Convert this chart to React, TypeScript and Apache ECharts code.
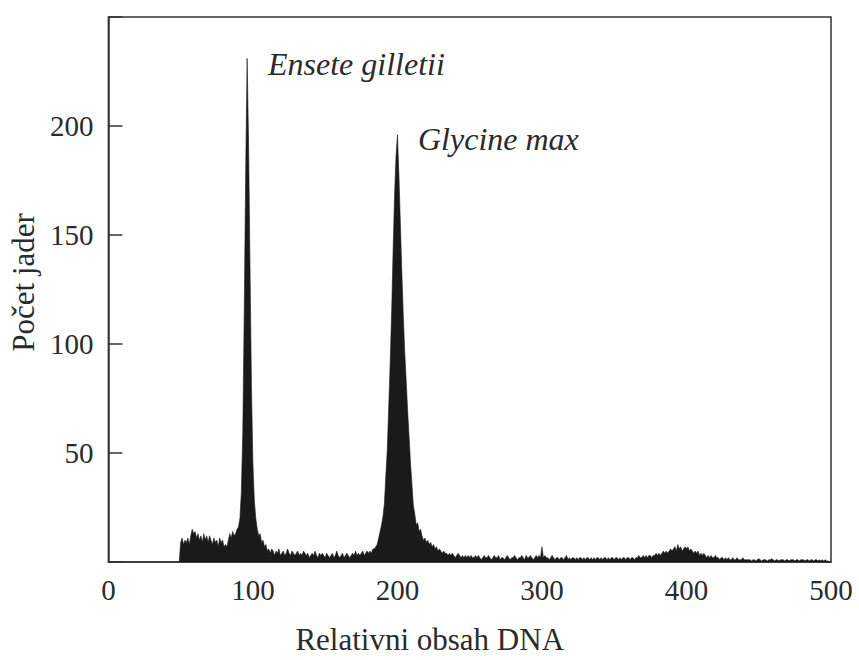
import React, { useEffect, useRef } from "react";
import * as echarts from "echarts";

// ---- Data (1 channel = 1 unit) ----
const X_MIN = 0;
const X_MAX = 500;
const X_INTERVAL = 100;
const Y_MIN = 0;
const Y_MAX = 250;
const Y_INTERVAL = 50;
const Y_TICK_LABELS = [50, 100, 150, 200];

const X_TITLE = "Relativni obsah DNA";
const Y_TITLE = "Počet jader";
const PEAK_LABELS = ["Ensete gilletii", "Glycine max"];

// background debris, channels 49..91
const bgStart = 49;
const bgCounts = [
  0, 9, 11, 8, 10, 9, 11, 8, 12, 15, 13, 14, 11, 13, 10, 12, 9, 13, 10, 12,
  9, 12, 10, 8, 11, 9, 10, 7, 11, 9, 10, 7, 8, 7, 10, 13, 11, 14, 12, 13, 15,
  16, 20,
];

// Ensete gilletii G1 peak, channels 92..102
const ensteStart = 92;
const ensetePeak = [32, 60, 115, 180, 231, 192, 135, 80, 45, 28, 20];

// valley, channels 103..183
const valleyStart = 103;
const valleyCounts = [
  15, 12, 13, 9, 10, 7, 8, 5, 6, 4, 6, 5, 3, 5, 4, 6, 3, 4, 5, 3, 4, 6, 4, 3,
  5, 4, 3, 4, 5, 3, 4, 3, 5, 4, 3, 4, 2, 3, 4, 3, 5, 3, 2, 4, 3, 4, 3, 2, 4, 3,
  2, 3, 4, 2, 3, 5, 3, 2, 3, 4, 2, 3, 4, 3, 2, 3, 4, 3, 5, 3, 4, 3, 4, 5, 3, 4,
  5, 4, 5, 4, 6,
];

// Glycine max G1 peak, channels 184..233
const glycineStart = 184;
const glycinePeak = [
  6, 7, 8, 11, 14, 17, 21, 27, 40, 52, 72, 92, 115, 143, 168, 186, 196, 178,
  156, 134, 114, 97, 84, 70, 58, 46, 36, 26, 22, 17, 18, 14, 15, 12, 10, 11, 9,
  10, 8, 9, 7, 8, 6, 7, 5, 6, 5, 4, 5, 4,
];

// tail, channels 234..363
const tailNearStart = 234;
const tailNear = [
  4, 3, 4, 3, 4, 3, 2, 3, 4, 3,
  2, 3, 2, 3, 2, 3, 2, 3, 2, 2,
  3, 2, 3, 2, 1, 2, 3, 2, 2, 3,
  2, 1, 2, 3, 2, 2, 3, 1, 2, 2,
  1, 2, 3, 2, 1, 2, 2, 3, 2, 1,
  2, 2, 3, 2, 1, 3, 2, 2, 3, 2,
  1, 2, 3, 2, 3, 2, 7, 2, 3, 2,
  2, 1, 2, 3, 2, 1, 2, 2, 1, 2,
  2, 1, 2, 3, 1, 2, 1, 2, 2, 1,
  2, 1, 2, 2, 1, 2, 1, 2, 2, 1,
  2, 1, 2, 1, 2, 2, 1, 2, 1, 2,
  2, 1, 2, 1, 2, 2, 1, 2, 2, 1,
  2, 1, 2, 2, 1, 2, 2, 1, 2, 2,
];

// G2 bump of Ensete (~400), channels 364..423
const g2Start = 364;
const g2Bump = [
  1, 2, 2, 3, 2, 2, 3, 2, 3, 2,
  3, 3, 2, 3, 3, 4, 3, 4, 3, 4,
  5, 4, 5, 4, 5, 6, 5, 6, 7, 5,
  8, 6, 7, 5, 6, 7, 6, 7, 5, 6,
  5, 4, 5, 4, 5, 3, 4, 3, 4, 3,
  2, 3, 2, 3, 2, 2, 3, 2, 2, 1,
];

// far tail, channels 424..499
const tailFarStart = 424;
const tailFar = [
  2, 2, 1, 2, 1, 2, 1, 1, 2, 1,
  1, 2, 1, 1, 1, 2, 1, 1, 1, 1,
  1, 0.5, 1, 1, 0.5, 1, 1.5, 1, 0.5, 1,
  1, 1, 0.5, 1, 1, 1.5, 1, 0.5, 1, 1,
  0.5, 1, 1, 1, 0.5, 1, 1, 0.5, 1, 1,
  1, 0.5, 1, 1, 0.5, 1, 1, 1, 0.5, 1,
  1, 0.5, 1, 1, 0.5, 1, 1, 0.5, 1, 0.5,
  1, 0.5, 1, 0.5, 0.5, 0,
];

const segments: { start: number; counts: number[] }[] = [
  { start: bgStart, counts: bgCounts },
  { start: ensteStart, counts: ensetePeak },
  { start: valleyStart, counts: valleyCounts },
  { start: glycineStart, counts: glycinePeak },
  { start: tailNearStart, counts: tailNear },
  { start: g2Start, counts: g2Bump },
  { start: tailFarStart, counts: tailFar },
];

function buildPoints(): [number, number][] {
  const pts: [number, number][] = [];
  segments.forEach((s) => {
    s.counts.forEach((c, i) => pts.push([s.start + i, c]));
  });
  return pts;
}

const SERIF = "'Liberation Serif', 'DejaVu Serif', serif";
const TEXT_COLOR = "#2b2b2b";
const LINE_COLOR = "#333333";
const FILL_COLOR = "#1a1a1a";

export default function App() {
  const ref = useRef<HTMLDivElement | null>(null);

  useEffect(() => {
    document.body.style.margin = "0";
    if (!ref.current) return;
    const chart = echarts.init(ref.current, undefined, { renderer: "svg" });
    const data = buildPoints();
    chart.setOption({
      animation: false,
      backgroundColor: "#ffffff",
      grid: {
        left: 105,
        right: 28,
        top: 17,
        bottom: 98,
        show: true,
        borderColor: LINE_COLOR,
        borderWidth: 1.5,
        backgroundColor: "transparent",
      },
      xAxis: {
        type: "value",
        min: X_MIN,
        max: X_MAX,
        interval: X_INTERVAL,
        axisLine: { show: true, onZero: false, lineStyle: { color: LINE_COLOR, width: 1.5 } },
        axisTick: { show: false },
        splitLine: { show: false },
        axisLabel: {
          fontFamily: SERIF,
          fontSize: 29,
          color: TEXT_COLOR,
          margin: 13,
        },
        name: X_TITLE,
        nameLocation: "middle",
        nameGap: 62,
        nameTextStyle: {
          fontFamily: SERIF,
          fontSize: 31,
          color: TEXT_COLOR,
          padding: [0, 80, 0, 0],
        },
      },
      yAxis: {
        type: "value",
        min: Y_MIN,
        max: Y_MAX,
        interval: Y_INTERVAL,
        axisLine: { show: true, lineStyle: { color: LINE_COLOR, width: 1.5 } },
        axisTick: {
          show: true,
          inside: true,
          length: 14,
          lineStyle: { color: LINE_COLOR, width: 1.5 },
        },
        splitLine: { show: false },
        axisLabel: {
          fontFamily: SERIF,
          fontSize: 29,
          color: TEXT_COLOR,
          margin: 15,
          formatter: (v: number) => (Y_TICK_LABELS.includes(v) ? String(v) : ""),
        },
        name: Y_TITLE,
        nameLocation: "middle",
        nameRotate: 90,
        nameGap: 67,
        nameTextStyle: {
          fontFamily: SERIF,
          fontSize: 31,
          color: TEXT_COLOR,
          padding: [0, 0, 0, 14],
        },
      },
      series: [
        {
          type: "line",
          data,
          symbol: "none",
          smooth: false,
          lineStyle: { color: FILL_COLOR, width: 0.6 },
          areaStyle: { color: FILL_COLOR, opacity: 1 },
          z: 2,
        },
      ],
      graphic: [
        {
          type: "text",
          left: 268,
          top: 48,
          style: {
            text: PEAK_LABELS[0],
            font: `italic 32px ${SERIF}`,
            fill: TEXT_COLOR,
          },
        },
        {
          type: "text",
          left: 418,
          top: 123,
          style: {
            text: PEAK_LABELS[1],
            font: `italic 32px ${SERIF}`,
            fill: TEXT_COLOR,
          },
        },
      ],
    });
    return () => chart.dispose();
  }, []);

  return <div ref={ref} style={{ width: 859, height: 660 }} />;
}
